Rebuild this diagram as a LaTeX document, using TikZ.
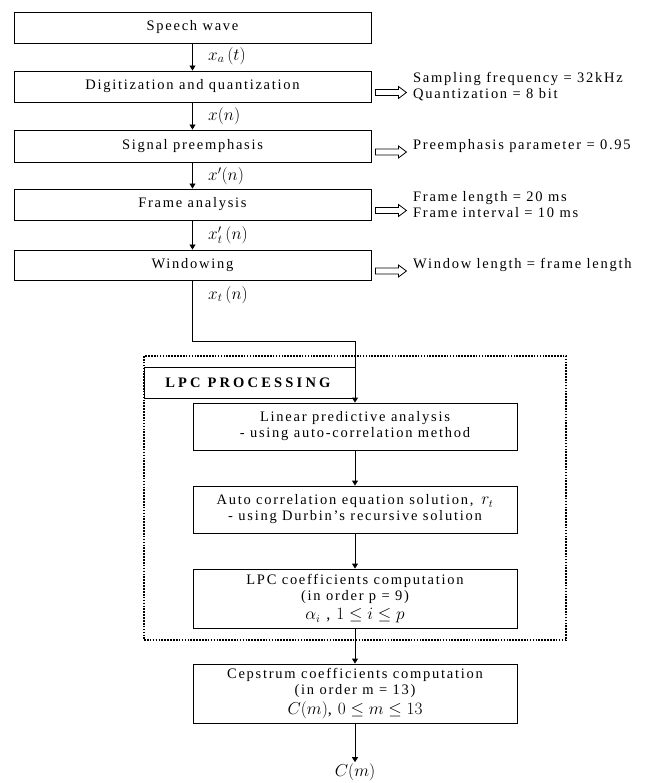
\documentclass[tikz,border=0pt]{standalone}
\usepackage{fontspec}
\setmainfont{Liberation Serif}[LetterSpace=12]
\usetikzlibrary{arrows.meta}
\newcommand\hollowarrow[1]{%
  \draw[line width=0.8pt, line join=miter] ([xshift=4pt,yshift=-3pt]#1.east) -- ++(23,0) -- ++(0,-3) -- ++(8,6) -- ++(-8,6) -- ++(0,-3) -- ++(-23,0) -- cycle;}
\begin{document}
\begin{tikzpicture}[x=1pt,y=-1pt,
  font=\fontsize{14.5}{16}\selectfont,
  every node/.style={text=black},
  mainbox/.style={draw, line width=0.9pt, minimum width=357pt, inner sep=0pt, align=center},
  innerbox/.style={draw, line width=0.9pt, minimum width=324pt, inner sep=0pt, align=center},
  flow/.style={line width=0.9pt, -{Triangle[length=5pt,width=6pt]}},
  info/.style={anchor=west, align=left, inner sep=0pt},
  sig/.style={anchor=west, inner sep=0pt, font=\fontsize{17}{17}\selectfont}]
\useasboundingbox (0,0) rectangle (660,783);

% main column
\node[mainbox, minimum height=31pt] (speech) at (192.5,27.5) {Speech wave};
\node[mainbox, minimum height=31pt] (dig) at (192.5,86.5) {Digitization and quantization};
\node[mainbox, minimum height=32pt] (pre) at (192.5,146) {Signal preemphasis};
\node[mainbox, minimum height=31pt] (frame) at (192.5,204.5) {Frame analysis};
\node[mainbox, minimum height=30pt] (win) at (192.5,265) {Windowing};

% signal labels
\node[sig] (la) at (208,56) {$x_a\,(t)$};
\node[sig] (lb) at (208,116) {$x(n)$};
\node[sig] (lc) at (208,176) {$x'(n)$};
\node[sig] (ld) at (208,235) {$x'_t\,(n)$};
\node[sig] (le) at (208,295) {$x_t\,(n)$};

% side parameters
\node[info] (diginfo) at (413,86.5) {Sampling frequency = 32kHz\\Quantization = 8 bit};
\node[info] (preinfo) at (413,146) {Preemphasis parameter = 0.95};
\node[info] (frameinfo) at (413,204.5) {Frame length = 20 ms\\Frame interval = 10 ms};
\node[info] (wininfo) at (413,265) {Window length = frame length};

\hollowarrow{dig}
\hollowarrow{pre}
\hollowarrow{frame}
\hollowarrow{win}

\draw[flow] (speech) -- (dig);
\draw[flow] (dig) -- (pre);
\draw[flow] (pre) -- (frame);
\draw[flow] (frame) -- (win);

% LPC processing group
\node[draw, dash pattern=on 1.6pt off 1.3pt, line width=2.2pt, minimum width=422pt, minimum height=284pt, inner sep=0pt] (group) at (355,498) {};
\node[draw, line width=0.9pt, minimum width=211pt, minimum height=31pt, inner sep=0pt] (lpc) at (249.5,382.5) {\addfontfeature{LetterSpace=22}\textbf{LPC PROCESSING}};

\node[innerbox, minimum height=47pt] (lin) at (355,426.5) {Linear predictive analysis\\- using auto-correlation method};
\node[innerbox, minimum height=47pt] (auto) at (355,509.5) {\fontsize{14.5}{20}\selectfont Auto correlation equation solution, \,{\fontsize{16}{16}\selectfont$r_t$}\\- using Durbin's recursive solution};
\node[innerbox, minimum height=59pt, font=\fontsize{14.5}{16}\selectfont] (coef) at (355,598.5) {LPC coefficients computation\\(in order p = 9)\\[3pt]{\fontsize{16}{16}\selectfont$\alpha_i$ , $1 \le i \le p$}};
\node[innerbox, minimum height=59pt, font=\fontsize{14.5}{16}\selectfont] (cep) at (355,693.5) {Cepstrum coefficients computation\\(in order m = 13)\\[3pt]{\fontsize{16}{16}\selectfont$C(m)$, $0 \le m \le 13$}};
\node[inner sep=1pt, font=\fontsize{16}{16}\selectfont] (out) at (355,772) {$C(m)$};

\draw[flow] (win.south) -- ++(0,61) -| (lin.north);
\draw[flow] (lin) -- (auto);
\draw[flow] (auto) -- (coef);
\draw[flow] (coef) -- (cep);
\draw[flow] (cep) -- (out);
\end{tikzpicture}
\end{document}
